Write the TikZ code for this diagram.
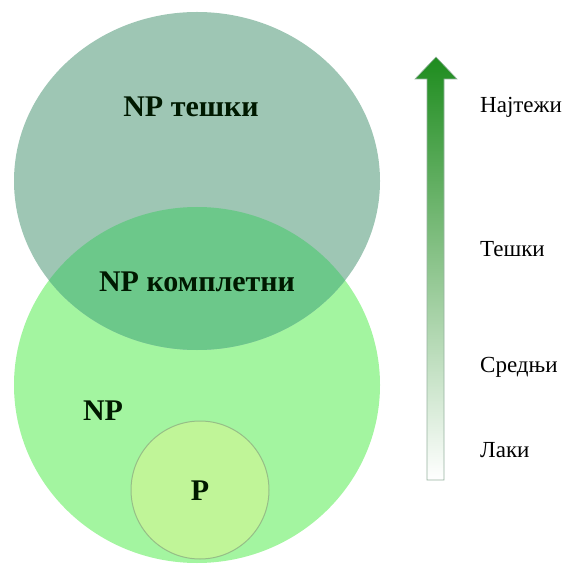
\documentclass[tikz,border=0pt]{standalone}
\usepackage{fontspec}
\setmainfont{Liberation Serif}
\usepackage{xcolor}
\usepackage{tikz}
\usetikzlibrary{positioning, calc}

\definecolor{hardgreen}{RGB}{158,198,180}
\definecolor{npgreen}{RGB}{163,245,160}
\definecolor{completegreen}{RGB}{108,200,138}
\definecolor{pgreen}{RGB}{192,245,152}
\definecolor{pline}{RGB}{150,190,135}
\definecolor{arrowgreen}{RGB}{30,140,30}
\definecolor{arrowmid}{RGB}{110,196,110}
\definecolor{arrowline}{RGB}{150,178,160}

\tikzset{
  setlabel/.style={font=\bfseries\fontsize{30}{30}\selectfont, text=black!90!green, anchor=base, inner sep=0pt},
  levellabel/.style={font=\fontsize{23}{23}\selectfont, anchor=base west, inner sep=0pt},
}

\begin{document}
\begin{tikzpicture}[x=1pt, y=1pt]
  \useasboundingbox (0, 0) rectangle (569, 565);

  \fill [npgreen] (197, 180) ellipse (183 and 178);
  \fill [hardgreen] (197, 384) ellipse (183 and 169);
  \begin{scope}
    \clip (197, 180) ellipse (183 and 178);
    \fill [completegreen] (197, 384) ellipse (183 and 169);
  \end{scope}
  \filldraw [fill=pgreen, draw=pline, line width=1pt] (200, 75) circle (69);

  \node [setlabel] (hard) at (191, 448) {NP тешки};
  \node [setlabel] (complete) at (197, 273) {NP комплетни};
  \node [setlabel] (np) at (103, 145) {NP};
  \node [setlabel] (p) at (200, 65) {P};

  \shadedraw [top color=arrowgreen, middle color=arrowmid, bottom color=white, draw=arrowline, line width=0.6pt]
    (427, 85) -- (427, 486) -- (415, 486) -- (436, 508) -- (457, 486) -- (444, 486) -- (444, 85) -- cycle;

  \node [levellabel] (hardest) at (480, 452) {Најтежи};
  \node [levellabel] (heavy) at (480, 308) {Тешки};
  \node [levellabel] (medium) at (480, 193) {Средњи};
  \node [levellabel] (easy) at (480, 108) {Лаки};
\end{tikzpicture}
\end{document}
